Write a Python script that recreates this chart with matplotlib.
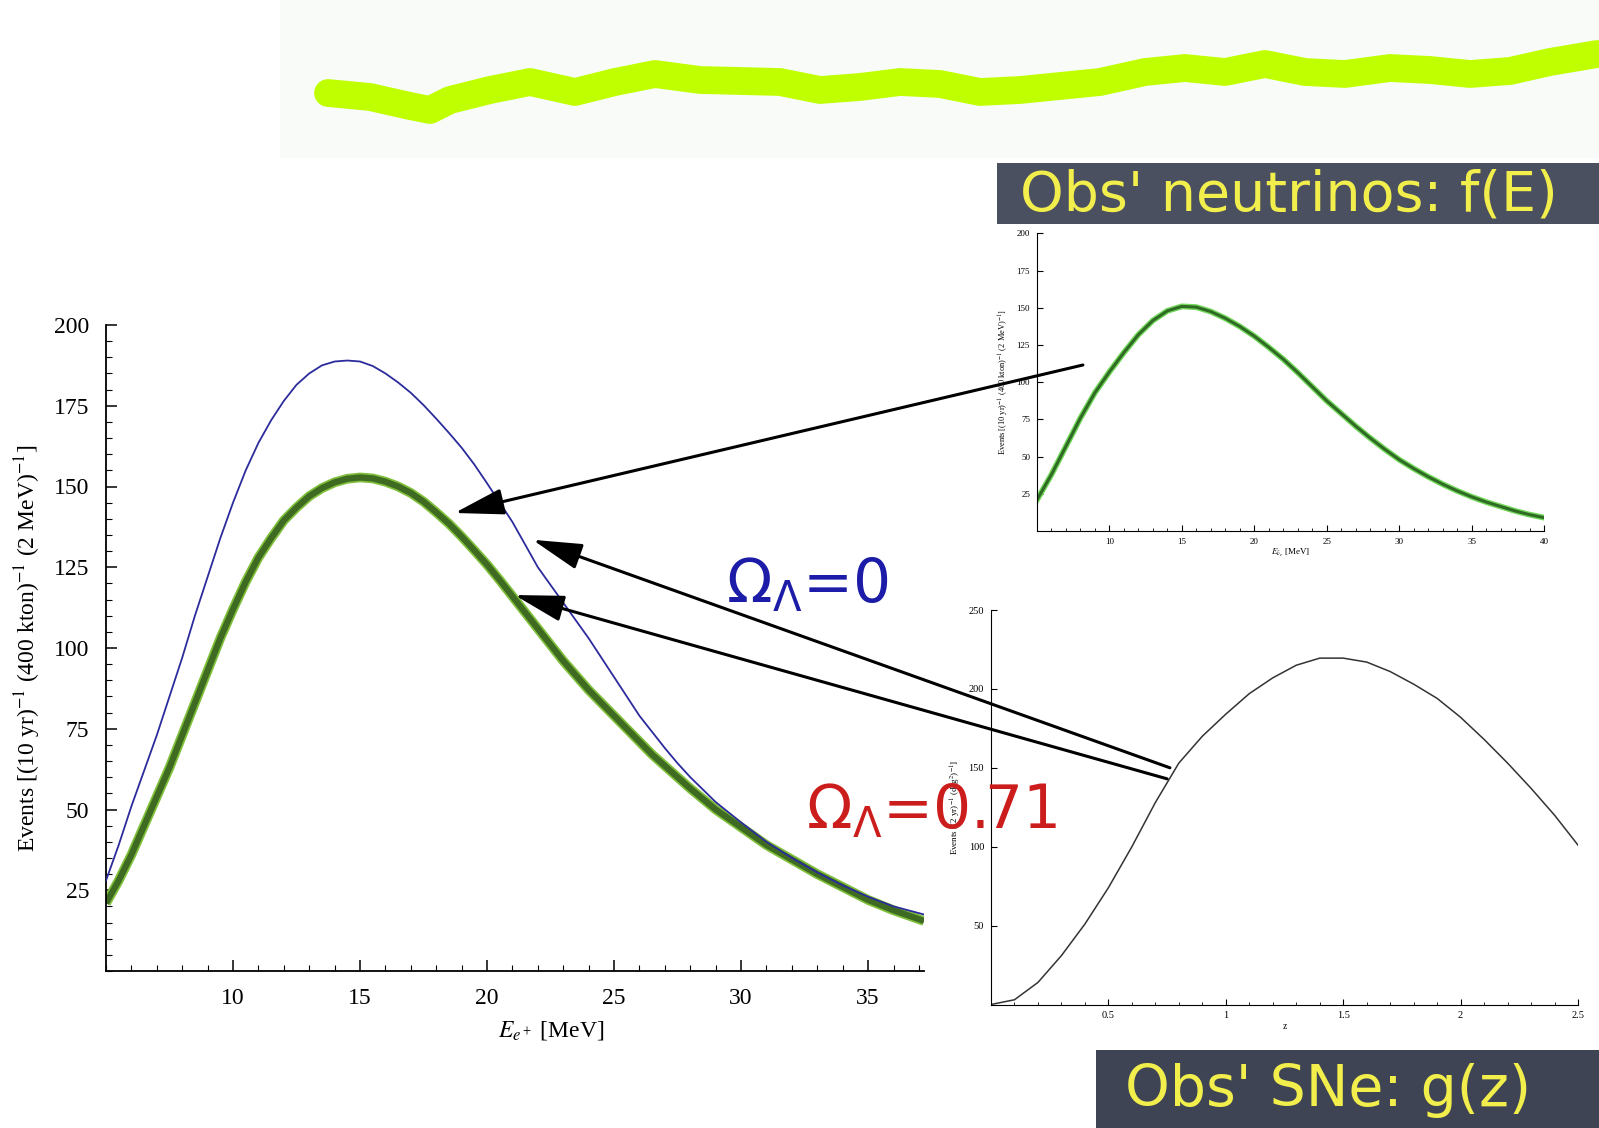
import numpy as np
import matplotlib
matplotlib.use("Agg")
import matplotlib.pyplot as plt
from matplotlib.patches import ConnectionPatch, Rectangle

plt.rcParams['mathtext.fontset'] = 'dejavusans'

W, H = 1599, 1128

# main panel: positron spectrum for two cosmologies
energy = [5, 5.5, 6, 6.5, 7, 7.5, 8, 8.5, 9, 9.5, 10, 10.5, 11, 11.5, 12, 12.5,
          13, 13.5, 14, 14.5, 15, 15.5, 16, 16.5, 17, 17.5, 18, 18.5, 19, 19.5,
          20, 20.5, 21, 21.5, 22, 22.5, 23, 23.5, 24, 24.5, 25, 25.5, 26, 26.5,
          27, 27.5, 28, 29, 30, 31, 32, 33, 34, 35, 36, 37.2]
events_omega0 = [28, 39, 51, 62, 73, 85, 97, 110, 122, 134, 145, 155, 163.5,
                 170.5, 176.5, 181.5, 185, 187.5, 188.7, 189, 188.7, 187.3, 185,
                 182.2, 179, 175.2, 171, 166.6, 162, 156.8, 151, 145, 139, 132,
                 125, 119.5, 114, 108.5, 103, 97, 91, 85, 79, 74, 69, 64.3, 60,
                 52.3, 46, 40, 35, 30.5, 26.5, 23, 20, 17.5]
events_omega071 = [21, 28, 36, 45, 54, 63, 73, 83, 93, 103, 112, 120.5, 128,
                   134, 139.5, 143.5, 147, 149.5, 151.3, 152.4, 152.8, 152.5,
                   151.5, 150, 148, 145.3, 142, 138.5, 134.5, 130.2, 125.8, 121,
                   116, 111, 106, 101, 96, 91.5, 87, 83, 79, 75, 71, 67, 63.5,
                   60, 56.5, 50, 44.5, 39, 34.5, 30, 26, 22, 18.8, 15.5]

# top inset: observed neutrino spectrum f(E)
inset_energy = [5, 6, 7, 8, 9, 10, 11, 12, 13, 14, 15, 16, 17, 18, 19, 20, 21,
                22, 23, 24, 25, 26, 27, 28, 29, 30, 31, 32, 33, 34, 35, 36, 37,
                38, 39, 40]
inset_events = [21, 38, 57, 76, 93, 107, 120, 132, 141.5, 148, 151, 150.5,
                147.5, 143, 137.5, 131, 123.5, 115.5, 106.5, 97, 87.5, 79, 70.5,
                62.5, 55, 48, 42, 36.5, 31.5, 27, 23, 19.5, 16.5, 13.5, 11, 9]

# bottom inset: observed supernova rate g(z)
redshift = [0, 0.1, 0.2, 0.3, 0.4, 0.5, 0.6, 0.7, 0.8, 0.9, 1.0, 1.1, 1.2,
            1.3, 1.4, 1.5, 1.6, 1.7, 1.8, 1.9, 2.0, 2.1, 2.2, 2.3, 2.4, 2.5]
sn_events = [0, 3, 14, 31, 51, 74, 100, 128, 153, 170, 184, 197, 207, 215,
             219.5, 219.5, 217, 211, 203, 194, 182, 168, 153, 137, 120, 101]

# decorative title brush stroke (figure pixels)
stroke_x = [328, 370, 410, 430, 450, 490, 530, 575, 615, 655, 700, 780, 820,
            860, 900, 940, 980, 1020, 1060, 1100, 1145, 1185, 1225, 1265, 1305,
            1345, 1390, 1430, 1470, 1510, 1550, 1597]
stroke_y = [93, 97, 106, 110, 100, 90, 82, 92, 82, 74, 80, 82, 90, 87, 82, 84,
            92, 90, 86, 82, 72, 68, 72, 64, 72, 74, 68, 70, 74, 71, 62, 54]

fig = plt.figure(figsize=(W / 100, H / 100), dpi=100)
fig.patch.set_facecolor('white')

# background overlay in pixel coordinates
bg = fig.add_axes([0, 0, 1, 1], zorder=-5)
bg.set_xlim(0, W)
bg.set_ylim(H, 0)
bg.axis('off')
bg.add_patch(Rectangle((280, 0), W - 280, 158, color='#f8fbf8', lw=0))
bg.plot(stroke_x, stroke_y, color='#bfff00', lw=20, solid_capstyle='round',
        solid_joinstyle='round')
bg.add_patch(Rectangle((997, 163), W - 997, 61, color='#4b5061', lw=0))
bg.add_patch(Rectangle((1096, 1050), W - 1096, 78, color='#3f4455', lw=0))
bg.text(1020, 196, "Obs' neutrinos: f(E)", color='#f2ef4c', fontsize=40,
        family='DejaVu Sans', va='center', ha='left')
bg.text(1125, 1090, "Obs' SNe: g(z)", color='#f2ef4c', fontsize=41,
        family='DejaVu Sans', va='center', ha='left')

serif = 'Liberation Serif'

# main axes
ax = fig.add_axes([106 / W, 157 / H, 818 / W, 646 / H])
ax.set_facecolor('none')
ax.plot(energy, events_omega0, color='#2b2b9c', lw=1.3, zorder=3)
ax.plot(energy, events_omega071, color='#7fbf3a', lw=7, solid_capstyle='butt',
        zorder=2)
ax.plot(energy, events_omega071, color='#3e6a22', lw=4.5, solid_capstyle='butt',
        zorder=2)
ax.set_xlim(5, 37.2)
ax.set_ylim(0, 200)
ax.set_xticks([10, 15, 20, 25, 30, 35])
ax.set_yticks([25, 50, 75, 100, 125, 150, 175, 200])
ax.set_xticks(np.arange(5, 38, 1), minor=True)
ax.set_yticks(np.arange(0, 201, 5), minor=True)
ax.tick_params(which='major', direction='in', length=8, width=1.1,
               labelsize=17, pad=12)
ax.tick_params(which='minor', direction='in', length=4, width=0.8)
for lbl in ax.get_xticklabels() + ax.get_yticklabels():
    lbl.set_family(serif)
for s in ['top', 'right']:
    ax.spines[s].set_visible(False)
for s in ['left', 'bottom']:
    ax.spines[s].set_linewidth(1.3)
ax.set_xlabel(r'$E_{e^+}$ [MeV]', family=serif, fontsize=17, labelpad=4,
              math_fontfamily='stix')
ax.xaxis.set_label_coords(0.544, -0.075)
ax.set_ylabel(r'Events [(10 yr)$^{-1}$ (400 kton)$^{-1}$ (2 MeV)$^{-1}$]',
              family=serif, fontsize=17, math_fontfamily='stix')
ax.yaxis.set_label_coords(-0.077, 0.5)

# top inset
ax1 = fig.add_axes([1037 / W, (H - 531) / H, 507 / W, 297.5 / H])
ax1.set_facecolor('none')
ax1.plot(inset_energy, inset_events, color='#72d85a', lw=4.2)
ax1.plot(inset_energy, inset_events, color='#2f6b24', lw=2.2)
ax1.set_xlim(5, 40)
ax1.set_ylim(0, 200)
ax1.set_xticks([10, 15, 20, 25, 30, 35, 40])
ax1.set_yticks([25, 50, 75, 100, 125, 150, 175, 200])
ax1.set_xticks(np.arange(5, 41, 1), minor=True)
ax1.tick_params(which='major', direction='in', length=4, labelsize=6.5, pad=5)
ax1.tick_params(which='minor', direction='in', length=2)
for lbl in ax1.get_xticklabels() + ax1.get_yticklabels():
    lbl.set_family(serif)
for s in ['top', 'right']:
    ax1.spines[s].set_visible(False)
ax1.set_xlabel(r'$E_{\bar\nu_e}$ [MeV]', family=serif, fontsize=6.5, labelpad=1,
               math_fontfamily='stix')
ax1.set_ylabel(r'Events [(10 yr)$^{-1}$ (400 kton)$^{-1}$ (2 MeV)$^{-1}$]',
               family=serif, fontsize=6, labelpad=4, math_fontfamily='stix')

# bottom inset
ax2 = fig.add_axes([991 / W, (H - 1004.5) / H, 587 / W, 394.5 / H])
ax2.set_facecolor('none')
ax2.plot(redshift, sn_events, color='#333333', lw=1.1)
ax2.set_xlim(0, 2.5)
ax2.set_ylim(0, 250)
ax2.set_xticks([0.5, 1, 1.5, 2, 2.5])
ax2.set_xticklabels(['0.5', '1', '1.5', '2', '2.5'])
ax2.set_yticks([50, 100, 150, 200, 250])
ax2.set_xticks(np.arange(0, 2.51, 0.1), minor=True)
ax2.tick_params(which='major', direction='in', length=4, labelsize=7.5, pad=5)
ax2.tick_params(which='minor', direction='in', length=2)
for lbl in ax2.get_xticklabels() + ax2.get_yticklabels():
    lbl.set_family(serif)
for s in ['top', 'right']:
    ax2.spines[s].set_visible(False)
ax2.set_xlabel('z', family=serif, fontsize=7, labelpad=1)
ax2.set_ylabel(r'Events [(2 yr)$^{-1}$ (deg$^{2}$)$^{-1}$]', family=serif,
               fontsize=6.5, labelpad=4, math_fontfamily='stix')

# arrows from the insets onto the main curves
arrows = [
    ((18.72, 141.8), ax, (8.17, 111.6), ax1),
    ((21.79, 133.5), ax, (0.762, 150), ax2),
    ((21.08, 116.4), ax, (0.75, 143), ax2),
]
for head, a_head, tail, a_tail in arrows:
    cp = ConnectionPatch(xyA=tail, coordsA=a_tail.transData,
                         xyB=head, coordsB=a_head.transData,
                         arrowstyle='-|>,head_length=1.7,head_width=0.45',
                         color='black', lw=2.2, mutation_scale=18, zorder=10)
    fig.add_artist(cp)

# cosmology labels
fig.text(726 / W, 1 - 602 / H, r'$\Omega_\Lambda$=0', color='#1c1ca8',
         fontsize=43, ha='left', va='baseline')
fig.text(806 / W, 1 - 828 / H, r'$\Omega_\Lambda$=0.71', color='#cc1d1d',
         fontsize=43, ha='left', va='baseline')

fig.savefig('out.png', dpi=100)
